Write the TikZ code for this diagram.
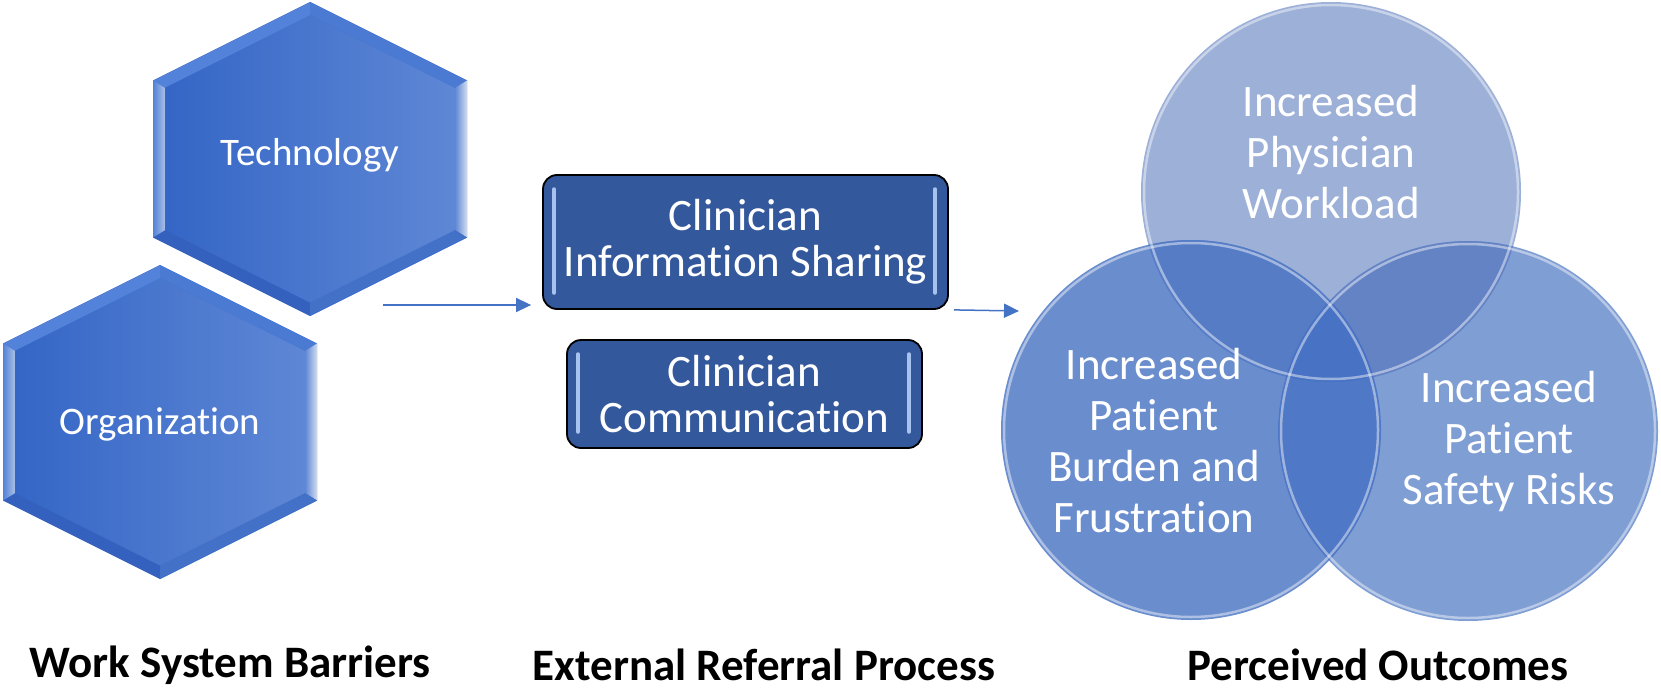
\documentclass[tikz,border=0pt]{standalone}
\usepackage{fontspec}
\setmainfont{Carlito}[Ligatures=NoCommon]
\usetikzlibrary{arrows.meta}
\definecolor{linkblue}{HTML}{4472C4}
\definecolor{boxblue}{HTML}{34589C}
\definecolor{boxbarblue}{HTML}{A7C2EE}
\definecolor{hexdark}{HTML}{3566C6}
\definecolor{hexlite}{HTML}{5E87D5}
\definecolor{hexbottom}{HTML}{3461BD}
\definecolor{hexlow}{HTML}{4371C8}
\definecolor{hextop}{HTML}{5282D9}
\definecolor{hextopr}{HTML}{4A7AD2}
\definecolor{topfill}{HTML}{9CB0D8}
\definecolor{burdenfill}{HTML}{6A8DCE}
\definecolor{safetyfill}{HTML}{7F9ED4}
\definecolor{topburden}{HTML}{557CC5}
\definecolor{topsafety}{HTML}{6383C4}
\definecolor{burdensafety}{HTML}{4F78C6}
\definecolor{allthree}{HTML}{4872C3}

\begin{document}
\begin{tikzpicture}[x=1pt,y=-1pt,
	hexlabel/.style={text=white, font=\fontsize{39}{46}\selectfont},
	boxbar/.style={draw=boxbarblue, line width=3.5pt, line cap=round},
	procbox/.style={draw=black, line width=1.8pt, rounded corners=14pt, fill=boxblue, text=white, align=center, inner sep=0pt, font=\fontsize{45}{46}\selectfont,
		path picture={
			\draw[boxbar] ([xshift=11pt,yshift=-14pt]path picture bounding box.north west) -- ([xshift=11pt,yshift=16pt]path picture bounding box.south west);
			\draw[boxbar] ([xshift=-13pt,yshift=-14pt]path picture bounding box.north east) -- ([xshift=-13pt,yshift=16pt]path picture bounding box.south east);
		}},
	vennlabel/.style={text=white, align=center, font=\fontsize{45}{51}\selectfont},
	rim/.style={draw=white, draw opacity=0.45, line width=2.5pt},
	heading/.style={font=\fontsize{45}{54}\selectfont\bfseries},
	link/.style={draw=linkblue, line width=1.5pt, -{Triangle[length=15pt,width=14pt]}}]
	\useasboundingbox (0,0) rectangle (1661,690);

	\foreach \cx/\cy/\ty/\nm/\txt in {310/159/155/tech/Technology, 160/422/424/org/Organization}{
		\begin{scope}[shift={(\cx,\cy)}]
			\fill[hexbottom] (0,-157) -- (157,-78.5) -- (157,78.5) -- (0,157) -- (-157,78.5) -- (-157,-78.5) -- cycle;
			\fill[hextop] (0,-157) -- (-157,-78.5) -- (-145,-71.1) -- (0,-143.6) -- cycle;
			\fill[hextopr] (0,-157) -- (157,-78.5) -- (145,-71.1) -- (0,-143.6) -- cycle;
			\shade[left color=hexlite, right color=white!75!linkblue] (157,-78.5) -- (157,78.5) -- (145,71.1) -- (145,-71.1) -- cycle;
			\shade[left color=hextop, right color=white!55!linkblue] (-157,-78.5) -- (-157,78.5) -- (-145,71.1) -- (-145,-71.1) -- cycle;
			\fill[hexlow] (0,157) -- (157,78.5) -- (145,71.1) -- (0,143.6) -- cycle;
			\shade[left color=hexdark, right color=hexlite] (0,-143.6) -- (145,-71.1) -- (145,71.1) -- (0,143.6) -- (-145,71.1) -- (-145,-71.1) -- cycle;
		\end{scope}
		\node (\nm) at (\cx,\ty) [hexlabel] {\txt};
	}

	\node (share) at (745.5,242) [procbox, minimum width=405pt, minimum height=134pt] {Clinician\\Information Sharing};
	\node (talk) at (744.5,394) [procbox, minimum width=355pt, minimum height=108pt] {Clinician\\Communication};

	\coordinate (ctop) at (1331,192);
	\coordinate (cburden) at (1191,430);
	\coordinate (csafety) at (1468,431);
	\fill[topfill] (ctop) circle[radius=190pt];
	\fill[burdenfill] (cburden) circle[radius=190pt];
	\fill[safetyfill] (csafety) circle[radius=190pt];
	\begin{scope}
		\clip (ctop) circle[radius=190pt];
		\fill[topburden] (cburden) circle[radius=190pt];
		\fill[topsafety] (csafety) circle[radius=190pt];
	\end{scope}
	\begin{scope}
		\clip (cburden) circle[radius=190pt];
		\fill[burdensafety] (csafety) circle[radius=190pt];
		\clip (ctop) circle[radius=190pt];
		\fill[allthree] (csafety) circle[radius=190pt];
	\end{scope}
	\draw[rim] (ctop) circle[radius=187pt];
	\draw[rim] (cburden) circle[radius=187pt];
	\draw[rim] (csafety) circle[radius=187pt];

	\node (workload) at (1331,152) [vennlabel] {Increased\\Physician\\Workload};
	\node (burden) at (1154,441) [vennlabel] {Increased\\Patient\\Burden and\\Frustration};
	\node (safety) at (1509,441) [vennlabel] {Increased\\Patient\\Safety Risks};

	\coordinate (barout) at (383,305);
	\coordinate (outin) at (1019,311);
	\draw[link, shorten >=11pt] (barout) -- (barout -| share.west);
	\draw[link] ([xshift=5pt]share.south east) -- (outin);

	\node (barriers) at (230,665) [heading] {Work System Barriers};
	\node (referral) at (764,665) [heading] {External Referral Process};
	\node (outcomes) at (1378,665) [heading] {Perceived Outcomes};
\end{tikzpicture}
\end{document}
